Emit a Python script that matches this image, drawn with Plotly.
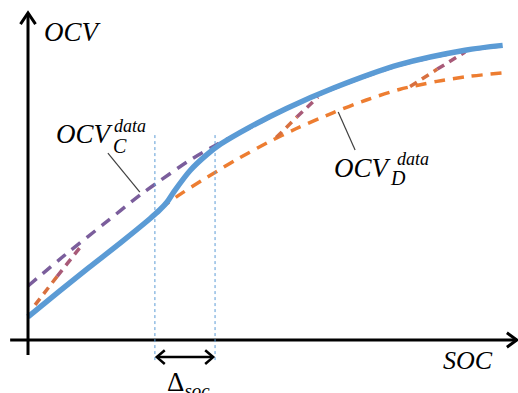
import plotly.graph_objects as go

# ---- data (SOC, OCV in schematic units) ----
soc_model = [0, 6.5, 13, 19.6, 26, 28, 29.6, 31, 34.5, 38, 41, 47, 55, 65, 79, 93, 101]
ocv_model = [7.7, 16, 24.2, 32.3, 40.5, 43.3, 46, 49.3, 56.5, 61.7, 65.3, 70.8, 77.2, 84, 91.8, 96.6, 98.2]

soc_c = [0, 8, 16, 24, 28, 34, 40, 47, 55, 65, 79, 93, 100]
ocv_c = [18, 28.5, 38.5, 48.5, 53, 59.5, 65, 70.6, 77, 83.8, 91.6, 96.4, 97.9]

soc_d = [0, 6.5, 13, 19.6, 26, 29.6, 33, 37, 41, 45, 51, 57, 65, 72, 79, 87, 94, 101]
ocv_d = [7.7, 16, 24.2, 32.3, 40.5, 45.5, 49.2, 53.2, 57, 60.7, 65.8, 70.4, 75.8, 80, 83.5, 86.2, 87.9, 89]

# transition segments from OCV_D to OCV_C (start, mid, end)
trans_soc = [[1.5, 6.2, 11], [52.8, 57.2, 61.7], [81.3, 87.1, 93]]
trans_ocv = [[11.7, 21.2, 30.7], [67.5, 74.3, 81], [84.5, 90.3, 96]]

delta_soc = [27.0, 39.8]   # SOC limits of the transition band

BLUE = "#5b9bd5"
ORANGE = "#ed7d31"
PURPLE = "#7b5e9c"
MAUVE = "#a85a78"
FONT = "Liberation Serif"

fig = go.Figure()

fig.add_trace(go.Scatter(x=soc_c, y=ocv_c, mode="lines",
                         line=dict(color=PURPLE, width=3.5, dash="11px,8px", shape="spline", smoothing=0.8)))
fig.add_trace(go.Scatter(x=soc_d, y=ocv_d, mode="lines",
                         line=dict(color=ORANGE, width=3.5, dash="11px,8px", shape="spline", smoothing=0.8)))
for xs, ys in zip(trans_soc, trans_ocv):
    fig.add_trace(go.Scatter(x=xs[:2], y=ys[:2], mode="lines",
                             line=dict(color="#d8703f", width=3.5, dash="8px,6px")))
    fig.add_trace(go.Scatter(x=xs[1:], y=ys[1:], mode="lines",
                             line=dict(color=MAUVE, width=3.5, dash="8px,6px")))
fig.add_trace(go.Scatter(x=soc_model, y=ocv_model, mode="lines",
                         line=dict(color=BLUE, width=5.5, shape="spline", smoothing=0.8)))

shapes = []
# axes
shapes.append(dict(type="line", x0=0, x1=0, y0=-5, y1=109, line=dict(color="black", width=3)))
shapes.append(dict(type="path", path="M -1.6 105.3 L 0 109 L 1.6 105.3", line=dict(color="black", width=3)))
shapes.append(dict(type="line", x0=-3.8, x1=104, y0=0, y1=0, line=dict(color="black", width=3)))
shapes.append(dict(type="path", path="M 101.9 2.4 L 104 0 L 101.9 -2.4", line=dict(color="black", width=3)))
# dotted band limits
for s in delta_soc:
    shapes.append(dict(type="line", x0=s, x1=s, y0=-6.7, y1=69.3,
                       line=dict(color=BLUE, width=1, dash="dot")))
# double arrow
shapes.append(dict(type="line", x0=27.4, x1=39.4, y0=-5.7, y1=-5.7, line=dict(color="black", width=2.5)))
shapes.append(dict(type="path", path="M 29.1 -3.4 L 27.4 -5.7 L 29.1 -8.0", line=dict(color="black", width=2.5)))
shapes.append(dict(type="path", path="M 37.7 -3.4 L 39.4 -5.7 L 37.7 -8.0", line=dict(color="black", width=2.5)))
# leader lines
shapes.append(dict(type="line", x0=17.0, y0=62.3, x1=23.8, y1=49.3, line=dict(color="#404040", width=1.2)))
shapes.append(dict(type="line", x0=66.0, y0=76.0, x1=69.6, y1=63.3, line=dict(color="#404040", width=1.2)))

def ann(x, y, text, size, xanchor="left", yanchor="middle"):
    return dict(x=x, y=y, xref="x", yref="y", text=text, showarrow=False,
                xanchor=xanchor, yanchor=yanchor,
                font=dict(family=FONT, size=size, color="black"))

annotations = [
    ann(3.0, 102.7, "<i>OCV</i>", 27),
    ann(99.4, -7.0, "<i>SOC</i>", 26, xanchor="right"),
    ann(5.5, 68.7, "<i>OCV</i>", 27),
    ann(17.7, 64.5, "<i>C</i>", 20),
    ann(17.9, 71.3, "<i>data</i>", 18),
    ann(64.7, 57.3, "<i>OCV</i>", 27),
    ann(76.6, 54.0, "<i>D</i>", 20),
    ann(78.1, 60.3, "<i>data</i>", 18),
    ann(29.2, -8.5, "Δ<sub><i>soc</i></sub>", 27, yanchor="top"),
]

fig.update_layout(
    width=518, height=393,
    margin=dict(l=0, r=0, t=0, b=0),
    paper_bgcolor="white", plot_bgcolor="white",
    showlegend=False,
    xaxis=dict(range=[-5.96, 104.26], visible=False, fixedrange=True),
    yaxis=dict(range=[-17.67, 113.33], visible=False, fixedrange=True),
    shapes=shapes, annotations=annotations,
)

fig.write_html("out.html", config={"displayModeBar": False},
               post_script="document.body.style.margin='0';")
